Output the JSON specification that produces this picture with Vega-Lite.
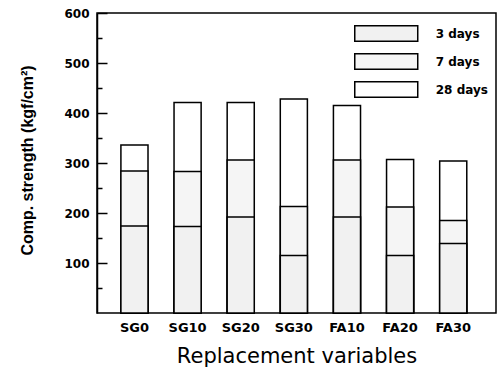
{
  "$schema": "https://vega.github.io/schema/vega-lite/v6.json",
  "width": 399,
  "height": 300,
  "autosize": {"type": "none"},
  "padding": {"left": 97, "top": 13, "right": 3, "bottom": 57},
  "background": "white",
  "data": {
    "values": [
      {"mix": "SG0", "age": "28 days", "strength": 336},
      {"mix": "SG10", "age": "28 days", "strength": 421},
      {"mix": "SG20", "age": "28 days", "strength": 421},
      {"mix": "SG30", "age": "28 days", "strength": 428},
      {"mix": "FA10", "age": "28 days", "strength": 415},
      {"mix": "FA20", "age": "28 days", "strength": 307},
      {"mix": "FA30", "age": "28 days", "strength": 304},
      {"mix": "SG0", "age": "7 days", "strength": 284},
      {"mix": "SG10", "age": "7 days", "strength": 283},
      {"mix": "SG20", "age": "7 days", "strength": 306},
      {"mix": "SG30", "age": "7 days", "strength": 213},
      {"mix": "FA10", "age": "7 days", "strength": 306},
      {"mix": "FA20", "age": "7 days", "strength": 212},
      {"mix": "FA30", "age": "7 days", "strength": 185},
      {"mix": "SG0", "age": "3 days", "strength": 174},
      {"mix": "SG10", "age": "3 days", "strength": 173},
      {"mix": "SG20", "age": "3 days", "strength": 192},
      {"mix": "SG30", "age": "3 days", "strength": 115},
      {"mix": "FA10", "age": "3 days", "strength": 192},
      {"mix": "FA20", "age": "3 days", "strength": 115},
      {"mix": "FA30", "age": "3 days", "strength": 139}
    ]
  },
  "mark": {"type": "bar", "stroke": "black", "strokeWidth": 1.5, "opacity": 1},
  "encoding": {
    "x": {
      "field": "mix",
      "type": "nominal",
      "sort": null,
      "scale": {"paddingInner": 0.49, "paddingOuter": 0.5, "align": 0.45},
      "axis": {
        "title": "Replacement variables",
        "titleFont": "DejaVu Sans",
        "titleFontSize": 21,
        "titleFontWeight": "normal",
        "titleColor": "black",
        "titlePadding": 11,
        "labelAngle": 0,
        "labelFont": "DejaVu Sans",
        "labelFontWeight": "bold",
        "labelFontSize": 13,
        "labelColor": "black",
        "labelPadding": 8,
        "ticks": false,
        "domain": false
      }
    },
    "y": {
      "field": "strength",
      "type": "quantitative",
      "stack": null,
      "scale": {"domain": [0, 600], "nice": false},
      "axis": {
        "title": "Comp. strength (kgf/cm²)",
        "titleFont": "Liberation Sans",
        "titleFontSize": 16,
        "titleFontWeight": "bold",
        "titleColor": "black",
        "titleX": -70,
        "titleY": 147,
        "titleAlign": "center",
        "titleBaseline": "middle",
        "titleAngle": -90,
        "values": [50, 100, 150, 200, 250, 300, 350, 400, 450, 500, 550, 600],
        "labelExpr": "datum.value % 100 === 0 ? datum.label : ''",
        "labelFont": "DejaVu Sans",
        "labelFontWeight": "bold",
        "labelFontSize": 12,
        "labelColor": "black",
        "labelPadding": 18,
        "tickSize": {"condition": {"test": "datum.value % 100 === 0", "value": -10}, "value": -5},
        "tickColor": "black",
        "tickWidth": 1.5,
        "domainColor": "black",
        "domainWidth": 1.5,
        "grid": false
      }
    },
    "fill": {
      "field": "age",
      "type": "nominal",
      "scale": {"domain": ["3 days", "7 days", "28 days"], "range": ["#f1f1f1", "#f5f5f5", "#ffffff"]},
      "legend": {
        "title": null,
        "orient": "none",
        "legendX": 272.75,
        "legendY": 4,
        "padding": 0,
        "symbolType": "M-2,-0.5H2V0.5H-2Z",
        "symbolSize": 992,
        "symbolStrokeColor": "black",
        "symbolStrokeWidth": 1.5,
        "symbolOpacity": 1,
        "labelFont": "DejaVu Sans",
        "labelFontWeight": "bold",
        "labelFontSize": 12,
        "labelColor": "black",
        "labelOffset": 33,
        "rowPadding": 0
      }
    }
  },
  "config": {
    "view": {"stroke": "black", "strokeWidth": 1.5}
  }
}
